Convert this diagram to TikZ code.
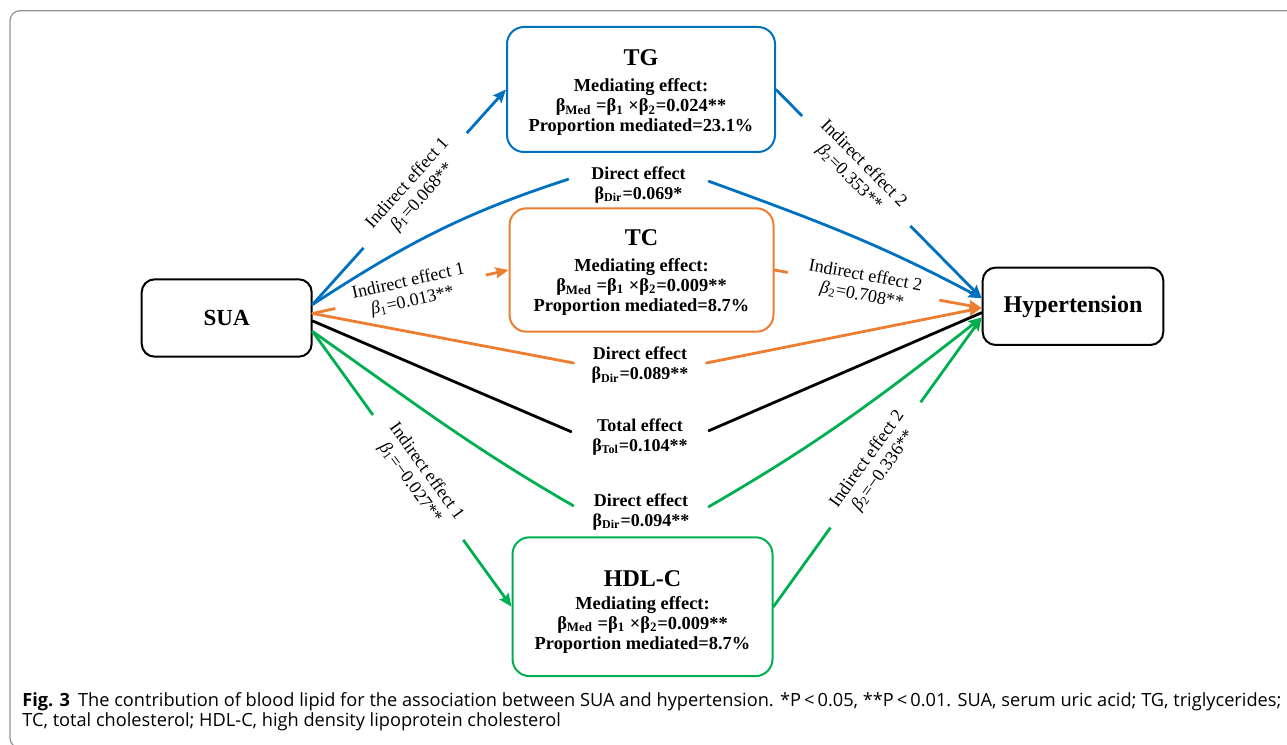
\documentclass[tikz,border=0pt]{standalone}
\usepackage{fontspec}
\setmainfont{Liberation Serif}
\newfontfamily\capfont{Open Sans}
\usepackage{xcolor}
\usepackage{tikz}
\usetikzlibrary{arrows.meta}
\definecolor{tgblue}{HTML}{0070C0}
\definecolor{tcorange}{HTML}{ED7D31}
\definecolor{hdlgreen}{HTML}{00B050}
\tikzstyle{box} = [draw, line width=1pt, rounded corners=8.5pt, inner sep=0pt, align=center]
\tikzstyle{med} = [box, text=black, font=\bfseries\fontsize{9.2}{10}\selectfont]
\tikzstyle{lab} = [fill=white, text=black, inner sep=0pt, minimum width=77pt, align=center, sloped, font=\fontsize{9}{10}\selectfont]
\tikzstyle{dlab} = [inner sep=0pt, align=center, anchor=base, font=\bfseries\fontsize{9}{10}\selectfont]
\tikzstyle{link} = [line width=1.4pt]
\tikzstyle{arrow} = [link, -{Stealth[length=6.5pt,width=5.5pt,inset=1pt]}]
\newcommand{\ttl}[2]{{\fontsize{12}{12}\selectfont\rule{0pt}{#1}#2}}

\begin{document}
\begin{tikzpicture}[x=0.5pt,y=0.5pt,line cap=round,line join=round]
    \clip (0,0) rectangle (1287,745);
    \draw[gray!85, line width=0.6pt, rounded corners=5pt] (10,-3) rectangle (1320,734.3);
    \node[box, minimum width=85pt, minimum height=38.7pt, rounded corners=6.5pt, font=\bfseries\fontsize{11.5}{12}\selectfont] (sua) at (226.7,427) {SUA};
    \node[box, minimum width=90.3pt, minimum height=38.7pt, rounded corners=6.5pt, font=\bfseries\fontsize{12}{12}\selectfont] (ht) at (1073,438.7) {Hypertension};
    \node[med, draw=tgblue, minimum width=134pt, minimum height=62.5pt] (tg) at (641,655.5) {\ttl{11.3pt}{TG}\\[3pt] Mediating effect:\\ β\textsubscript{Med} =β\textsubscript{1} ×β\textsubscript{2}=0.024**\\ Proportion mediated=23.1\%};
    \node[med, draw=tcorange, minimum width=132pt, minimum height=61.7pt] (tc) at (641.5,475) {\ttl{10.4pt}{TC}\\[2.9pt] Mediating effect:\\ β\textsubscript{Med} =β\textsubscript{1} ×β\textsubscript{2}=0.009**\\ Proportion mediated=8.7\%};
    \node[med, draw=hdlgreen, minimum width=130pt, minimum height=69.4pt] (hdl) at (642.5,138.3) {\ttl{13.1pt}{HDL-C}\\[1.2pt] Mediating effect:\\ β\textsubscript{Med} =β\textsubscript{1} ×β\textsubscript{2}=0.009**\\ Proportion mediated=8.7\%};
    \node[dlab, minimum width=70pt] (dtg) at (638.5,545.7) {Direct effect\\ β\textsubscript{Dir}=0.069*};
    \node[dlab, minimum width=66pt] (dtc) at (640,365) {Direct effect\\ β\textsubscript{Dir}=0.089**};
    \node[dlab, minimum width=68.5pt] (dtot) at (640,293.3) {Total effect\\ β\textsubscript{Tol}=0.104**};
    \node[dlab, minimum width=67.4pt] (dhdl) at (641,218.3) {Direct effect\\ β\textsubscript{Dir}=0.094**};
    \draw[arrow, tcorange] (sua.3) -- node[lab, pos=0.5] {Indirect effect 1\\ \textit{β}\textsubscript{1}=0.013**} (tc.west);
    \draw[arrow, tcorange] (tc.east) -- node[lab, pos=0.43] {Indirect effect 2\\ \textit{β}\textsubscript{2}=0.708**} (ht.181);
    \draw[arrow, tgblue] (sua.9) -- node[lab, pos=0.53] {Indirect effect 1\\ \textit{β}\textsubscript{1}=0.068**} (tg.west);
    \draw[arrow, tgblue] (tg.east) -- node[lab, pos=0.39] {Indirect effect 2\\ \textit{β}\textsubscript{2}=0.353**} (ht.175);
    \draw[arrow, hdlgreen] (sua.-9) -- node[lab, pos=0.53] {Indirect effect 1\\ \textit{β}\textsubscript{1}=−0.027**} (hdl.west);
    \draw[arrow, hdlgreen] (hdl.east) -- node[lab, pos=0.49] {Indirect effect 2\\ \textit{β}\textsubscript{2}=−0.336**} (ht.187);
    \draw[link, tgblue] (sua.9) to[out=33, in=198] ([yshift=10pt]dtg.base west);
    \draw[arrow, tgblue] ([yshift=9pt]dtg.base east) to[out=-20, in=152] (ht.175);
    \draw[link, tcorange] (sua.3) -- ([yshift=8.5pt]dtc.base west);
    \draw[arrow, tcorange] ([yshift=8.5pt]dtc.base east) -- (ht.181);
    \draw[link] (sua.-2.5) -- ([yshift=10pt]dtot.base west);
    \draw[link] ([yshift=10.5pt]dtot.base east) -- (ht.184);
    \draw[link, hdlgreen] (sua.-9) to[out=-35, in=150] ([yshift=10.5pt]dhdl.base west);
    \draw[arrow, hdlgreen] ([yshift=10pt]dhdl.base east) to[out=30, in=218] (ht.187);
    \node[anchor=base west, inner sep=0pt, align=left, font=\capfont\fontsize{9.1}{10.5}\selectfont] (cap) at (22,18) {\textbf{Fig. 3}\hspace{4pt}The contribution of blood lipid for the association between SUA and hypertension. *P\,<\,0.05, **P\,<\,0.01. SUA, serum uric acid; TG, triglycerides;\\ TC, total cholesterol; HDL-C, high density lipoprotein cholesterol};
\end{tikzpicture}
\end{document}
